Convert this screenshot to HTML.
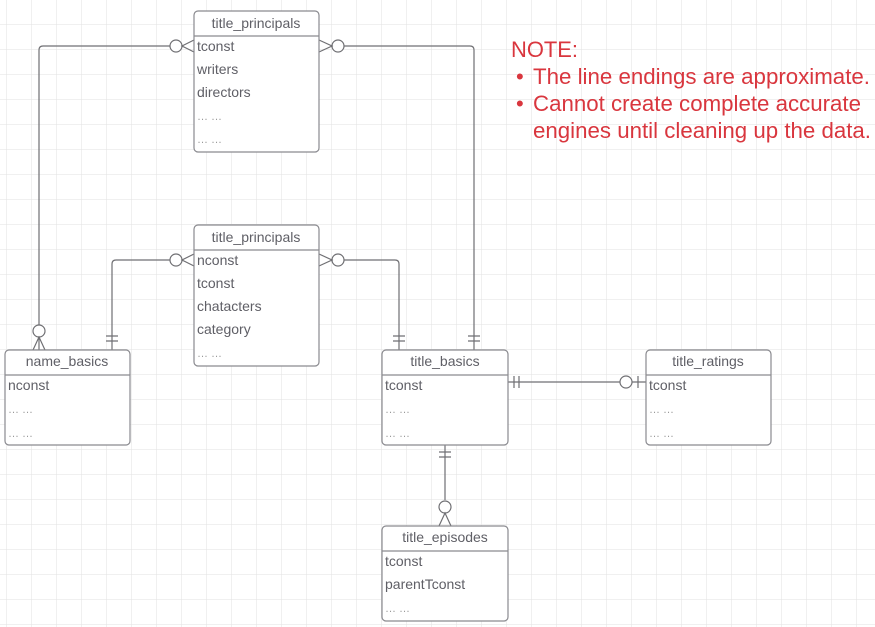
<!DOCTYPE html>
<html><head><meta charset="utf-8"><style>
html,body{margin:0;padding:0;background:#fff}
svg{display:block}
text{font-family:"Liberation Sans",sans-serif}
</style></head><body>
<svg width="875" height="627" xmlns="http://www.w3.org/2000/svg">
<defs>
<pattern id="g" x="6" y="24" width="25" height="25" patternUnits="userSpaceOnUse">
<path d="M0 0H25M0 0V25" stroke="#e2e2e2" stroke-width="1" fill="none"/>
</pattern>
</defs>
<rect width="875" height="627" fill="url(#g)"/>
<g stroke="#6f6f73" stroke-width="1.2" fill="none">
<path d="M176 46H43Q39 46 39 50V350"/>
<circle cx="176" cy="46" r="6" fill="#fff"/>
<path d="M194 40L182 46L194 52"/>
<circle cx="39" cy="331" r="6" fill="#fff"/>
<path d="M33 350L39 337L45 350"/>
<path d="M338 46H470Q474 46 474 50V350"/>
<circle cx="338" cy="46" r="6" fill="#fff"/>
<path d="M319 40L332 46L319 52"/>
<path d="M468 336H480M468 341H480"/>
<path d="M176 260H116Q112 260 112 264V350"/>
<circle cx="176" cy="260" r="6" fill="#fff"/>
<path d="M194 254L182 260L194 266"/>
<path d="M106 336H118M106 341H118"/>
<path d="M338 260H395Q399 260 399 264V350"/>
<circle cx="338" cy="260" r="6" fill="#fff"/>
<path d="M319 254L332 260L319 266"/>
<path d="M393 336H405M393 341H405"/>
<path d="M508 382H620"/>
<path d="M514 376V388M519 376V388"/>
<circle cx="626" cy="382" r="6" fill="#fff"/>
<path d="M632 382H646M638 376V388"/>
<path d="M445 445V500"/>
<path d="M439 452H451M439 457H451"/>
<circle cx="445" cy="507" r="6" fill="#fff"/>
<path d="M439 526L445 513L451 526"/>
</g>
<g stroke="#8a8a8f" stroke-width="1.2" fill="#fff">
<rect x="194" y="11" width="125" height="141" rx="4"/>
<rect x="194" y="225" width="125" height="141" rx="4"/>
<rect x="5" y="350" width="125" height="95" rx="4"/>
<rect x="382" y="350" width="126" height="95" rx="4"/>
<rect x="646" y="350" width="125" height="95" rx="4"/>
<rect x="382" y="526" width="126" height="95" rx="4"/>
</g>
<g stroke="#8a8a8f" stroke-width="1.2">
<path d="M194 36H319M194 250H319M5 375H130M382 375H508M646 375H771M382 551H508"/>
</g>
<g font-size="14" fill="#5f5f66">
<text x="256" y="28" text-anchor="middle">title_principals</text>
<text x="197" y="51">tconst</text>
<text x="197" y="74">writers</text>
<text x="197" y="97">directors</text>
<text x="197" y="120" font-size="11" fill="#999">… …</text>
<text x="197" y="143" font-size="11" fill="#999">… …</text>
<text x="256" y="242" text-anchor="middle">title_principals</text>
<text x="197" y="265">nconst</text>
<text x="197" y="288">tconst</text>
<text x="197" y="311">chatacters</text>
<text x="197" y="334">category</text>
<text x="197" y="357" font-size="11" fill="#999">… …</text>
<text x="67" y="366" text-anchor="middle">name_basics</text>
<text x="8" y="390">nconst</text>
<text x="8" y="413" font-size="11" fill="#999">… …</text>
<text x="8" y="437" font-size="11" fill="#999">… …</text>
<text x="445" y="366" text-anchor="middle">title_basics</text>
<text x="385" y="390">tconst</text>
<text x="385" y="413" font-size="11" fill="#999">… …</text>
<text x="385" y="437" font-size="11" fill="#999">… …</text>
<text x="708" y="366" text-anchor="middle">title_ratings</text>
<text x="649" y="390">tconst</text>
<text x="649" y="413" font-size="11" fill="#999">… …</text>
<text x="649" y="437" font-size="11" fill="#999">… …</text>
<text x="445" y="542" text-anchor="middle">title_episodes</text>
<text x="385" y="566">tconst</text>
<text x="385" y="589">parentTconst</text>
<text x="385" y="612" font-size="11" fill="#999">… …</text>
</g>
<g font-size="22" fill="#d9363e">
<text x="511" y="57" textLength="67" lengthAdjust="spacingAndGlyphs">NOTE:</text>
<text x="516" y="84">•</text><text x="533" y="84" textLength="337" lengthAdjust="spacingAndGlyphs">The line endings are approximate.</text>
<text x="516" y="111">•</text><text x="533" y="111" textLength="328" lengthAdjust="spacingAndGlyphs">Cannot create complete accurate</text>
<text x="533" y="138" textLength="338" lengthAdjust="spacingAndGlyphs">engines until cleaning up the data.</text>
</g>
</svg>
</body></html>
